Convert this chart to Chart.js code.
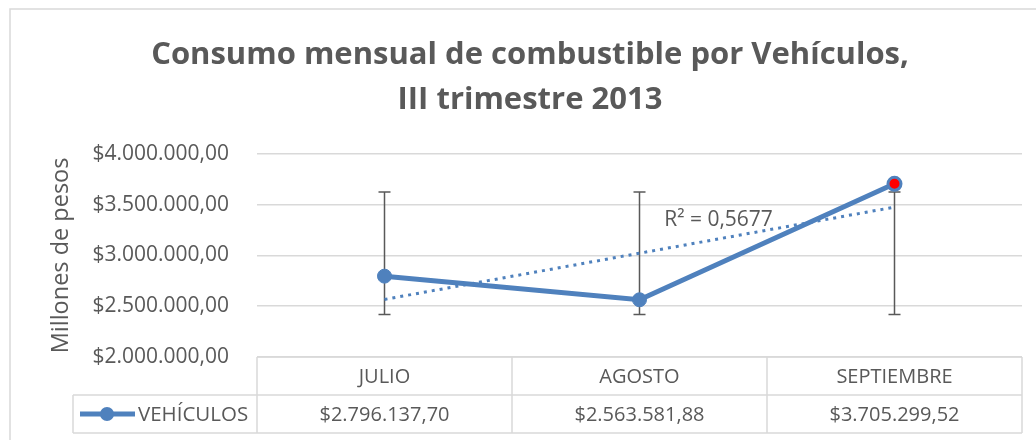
<!DOCTYPE html>
<html>
<head>
<meta charset="utf-8">
<script src="https://cdn.jsdelivr.net/npm/chart.js@4/dist/chart.umd.min.js"></script>
<style>
  html, body { margin: 0; padding: 0; background: #fff; }
  #wrap { width: 1036px; height: 440px; }
</style>
</head>
<body>
<div id="wrap"><canvas id="chart" width="1036" height="440"></canvas></div>
<script>
const categories = ['JULIO', 'AGOSTO', 'SEPTIEMBRE'];
const consumo = [2796137.70, 2563581.88, 3705299.52];
const seriesName = 'VEHÍCULOS';
// linear trendline as Excel shows it (dotted)
const trend = [2567000, 3022000, 3476000];
const rSquaredLabel = 'R² = 0,5677';
// standard deviation error bars
const errLow = [2418000, 2418000, 2418000];
const errHigh = [3626000, 3626000, 3626000];
const yMin = 2000000;
const yMax = 4000000;
const yStep = 500000;

const BLUE = '#4f81bd';
const TEXT = '#595959';
const GRID = '#d9d9d9';
const FONT = '"Open Sans"';

function money(v) {
  const parts = v.toFixed(2).split('.');
  const int = parts[0].replace(/\B(?=(\d{3})+(?!\d))/g, '.');
  return '$' + int + ',' + parts[1];
}

const frame = {
  id: 'frame',
  beforeDraw(chart) {
    const c = chart.ctx;
    c.save();
    c.strokeStyle = GRID;
    c.lineWidth = 1.5;
    c.strokeRect(10, 9, 1100, 600);
    c.restore();
  }
};

const errorBars = {
  id: 'errorBars',
  beforeDatasetsDraw(chart) {
    const c = chart.ctx, x = chart.scales.x, y = chart.scales.y;
    c.save();
    c.strokeStyle = '#595959';
    c.lineWidth = 1.5;
    categories.forEach((cat, i) => {
      const px = x.getPixelForValue(i);
      const top = y.getPixelForValue(errHigh[i]);
      const bot = y.getPixelForValue(errLow[i]);
      c.beginPath();
      c.moveTo(px, top); c.lineTo(px, bot);
      c.moveTo(px - 6, top); c.lineTo(px + 6, top);
      c.moveTo(px - 6, bot); c.lineTo(px + 6, bot);
      c.stroke();
    });
    c.restore();
  }
};

const dataTable = {
  id: 'dataTable',
  afterDraw(chart) {
    const c = chart.ctx, x = chart.scales.x, y = chart.scales.y;
    const area = chart.chartArea;
    const w = (area.right - area.left) / categories.length;
    const top = area.bottom;
    const rowH = 38;
    const mid = top + rowH, bot = top + rowH * 2;
    const legLeft = 73;
    c.save();
    c.strokeStyle = GRID;
    c.lineWidth = 1.5;
    c.beginPath();
    c.moveTo(area.left, top); c.lineTo(area.right, top);
    c.moveTo(legLeft, mid); c.lineTo(area.right, mid);
    c.moveTo(legLeft, bot); c.lineTo(area.right, bot);
    c.moveTo(legLeft, mid); c.lineTo(legLeft, bot);
    for (let i = 0; i <= categories.length; i++) {
      const bx = area.left + i * w;
      c.moveTo(bx, top); c.lineTo(bx, bot);
    }
    c.stroke();

    c.fillStyle = TEXT;
    c.font = '20px ' + FONT;
    c.textAlign = 'center';
    c.textBaseline = 'middle';
    categories.forEach((cat, i) => {
      const px = x.getPixelForValue(i);
      c.fillText(cat, px, top + rowH / 2 + 1);
      c.fillText(money(consumo[i]), px, mid + rowH / 2 + 1);
    });

    // legend key
    const ky = mid + rowH / 2;
    c.strokeStyle = BLUE;
    c.lineWidth = 5;
    c.beginPath();
    c.moveTo(80, ky); c.lineTo(135, ky);
    c.stroke();
    c.fillStyle = BLUE;
    c.beginPath();
    c.arc(107, ky, 7, 0, Math.PI * 2);
    c.fill();
    c.fillStyle = TEXT;
    c.textAlign = 'left';
    c.font = '20.5px ' + FONT;
    c.fillText(seriesName, 138, ky + 1);

    // R² label
    c.textAlign = 'center';
    c.font = '21px ' + FONT;
    c.fillText(rSquaredLabel, x.getPixelForValue(1) + 0.31 * w, y.getPixelForValue(3345000));
    c.restore();
  }
};

new Chart(document.getElementById('chart'), {
  type: 'line',
  data: {
    labels: categories,
    datasets: [{
      label: seriesName,
      data: consumo,
      borderColor: BLUE,
      borderWidth: 5,
      pointRadius: [7, 7, 6.5],
      pointBorderWidth: [1, 1, 3],
      pointBackgroundColor: [BLUE, BLUE, '#ff0000'],
      pointBorderColor: BLUE,
      tension: 0,
      order: 1
    }, {
      label: 'Lineal',
      data: trend,
      borderColor: BLUE,
      borderWidth: 3,
      borderDash: [3, 5],
      pointRadius: 0,
      tension: 0,
      order: 2
    }]
  },
  options: {
    responsive: false,
    animation: false,
    layout: { padding: { left: 38, right: 14, top: 0, bottom: 83 } },
    plugins: {
      legend: { display: false },
      tooltip: { enabled: false },
      title: {
        display: true,
        text: ['Consumo mensual de combustible por Vehículos,', 'III trimestre 2013'],
        color: TEXT,
        font: { family: FONT, size: 31, weight: 'bold', lineHeight: 1.45 },
        padding: { top: 33, bottom: 31 }
      }
    },
    scales: {
      x: {
        display: false,
        offset: true
      },
      y: {
        min: yMin,
        max: yMax,
        afterFit(s) { s.width = 219; },
        border: { display: false },
        grid: { color: GRID, lineWidth: 1.5, drawTicks: false },
        ticks: {
          stepSize: yStep,
          color: TEXT,
          padding: 28,
          font: { family: FONT, size: 21 },
          callback: v => money(v)
        },
        title: {
          display: true,
          text: 'Millones de pesos',
          color: TEXT,
          font: { family: FONT, size: 23.5 },
          padding: { top: 9 }
        }
      }
    }
  },
  plugins: [frame, errorBars, dataTable]
});
</script>
</body>
</html>
